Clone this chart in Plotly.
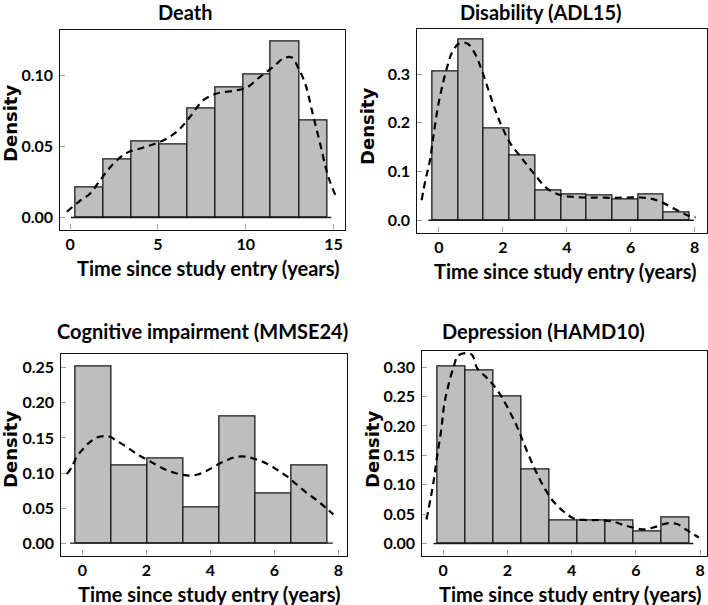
import plotly.graph_objects as go

W, H = 708, 605

# ---------------- data ----------------
titles = ["Death", "Disability (ADL15)", "Cognitive impairment (MMSE24)", "Depression (HAMD10)"]
x_title = "Time since study entry (years)"
y_title = "Density"

death_edges = [0.28, 1.88, 3.48, 5.08, 6.67, 8.26, 9.85, 11.44, 13.04, 14.64]
death_heights = [0.0211, 0.0406, 0.0535, 0.0514, 0.0770, 0.0918, 0.1005, 0.1239, 0.0683]
death_kde_x = [-0.19, 0.48, 1.14, 1.71, 2.47, 3.23, 3.99, 4.75, 5.51, 6.27, 6.83, 7.59, 8.35,
               9.30, 10.06, 10.82, 11.58, 12.15, 12.63, 13.01, 13.39, 13.77, 14.24, 14.71, 15.15]
death_kde_y = [0.0040, 0.0110, 0.0169, 0.0263, 0.0380, 0.0455, 0.0486, 0.0516, 0.0556, 0.0627,
               0.0709, 0.0826, 0.0873, 0.0892, 0.0915, 0.0991, 0.1061, 0.1120, 0.1127, 0.1049,
               0.0944, 0.0756, 0.0521, 0.0286, 0.0146]

adl_edges = [-0.21, 0.60, 1.41, 2.21, 3.02, 3.82, 4.63, 5.43, 6.24, 7.04, 7.85]
adl_heights = [0.3048, 0.3705, 0.1884, 0.1329, 0.0603, 0.0527, 0.0500, 0.0432, 0.0527, 0.0158]
adl_kde_x = [-0.54, -0.42, -0.28, -0.16, -0.03, 0.10, 0.26, 0.42, 0.63, 0.89, 1.10, 1.36, 1.62,
             1.93, 2.24, 2.56, 2.97, 3.39, 3.81, 4.22, 4.64, 5.06, 5.48, 5.89, 6.31, 6.62,
             6.94, 7.35, 7.77, 8.03]
adl_kde_y = [0.0411, 0.0822, 0.1233, 0.1781, 0.2329, 0.2740, 0.3151, 0.3459, 0.3630, 0.3630,
             0.3459, 0.3048, 0.2534, 0.1986, 0.1575, 0.1301, 0.0959, 0.0651, 0.0514, 0.0479,
             0.0466, 0.0466, 0.0459, 0.0466, 0.0466, 0.0445, 0.0377, 0.0240, 0.0103, 0.0055]

mmse_edges = [-0.22, 0.905, 2.03, 3.155, 4.28, 5.405, 6.53, 7.655]
mmse_heights = [0.2514, 0.1107, 0.1207, 0.0504, 0.1811, 0.0708, 0.1107]
mmse_kde_x = [-0.49, -0.33, -0.18, 0.03, 0.24, 0.45, 0.66, 0.86, 1.07, 1.38, 1.70, 2.01, 2.32,
              2.63, 2.95, 3.26, 3.57, 3.88, 4.19, 4.51, 4.82, 5.13, 5.44, 5.75, 6.07, 6.38,
              6.69, 7.00, 7.32, 7.63, 7.84]
mmse_kde_y = [0.0984, 0.1088, 0.1231, 0.1350, 0.1445, 0.1507, 0.1526, 0.1516, 0.1459, 0.1373,
              0.1269, 0.1193, 0.1112, 0.1041, 0.0993, 0.0965, 0.0975, 0.1031, 0.1112, 0.1183,
              0.1231, 0.1231, 0.1193, 0.1136, 0.1050, 0.0955, 0.0837, 0.0718, 0.0613, 0.0494,
              0.0409]

hamd_edges = [-0.17, 0.70, 1.57, 2.44, 3.31, 4.18, 5.05, 5.92, 6.79, 7.66]
hamd_heights = [0.3011, 0.2949, 0.2506, 0.1261, 0.0392, 0.0392, 0.0392, 0.0199, 0.0443]
hamd_kde_x = [-0.52, -0.39, -0.29, -0.19, -0.06, 0.04, 0.18, 0.33, 0.46, 0.70, 0.90, 1.06,
              1.37, 1.68, 1.99, 2.30, 2.51, 2.82, 3.13, 3.44, 3.76, 4.07, 4.48, 4.90, 5.31,
              5.62, 5.93, 6.25, 6.56, 6.97, 7.28, 7.59, 7.96]
hamd_kde_y = [0.0409, 0.0767, 0.1080, 0.1477, 0.1932, 0.2386, 0.2727, 0.3011, 0.3193, 0.3239,
              0.3210, 0.2983, 0.2813, 0.2614, 0.2330, 0.1989, 0.1705, 0.1307, 0.0966, 0.0710,
              0.0540, 0.0426, 0.0398, 0.0398, 0.0369, 0.0313, 0.0267, 0.0239, 0.0273, 0.0341,
              0.0330, 0.0227, 0.0102]

x_ticks = [[0, 5, 10, 15], [0, 2, 4, 6, 8], [0, 2, 4, 6, 8], [0, 2, 4, 6, 8]]
y_ticks = [[0, 0.05, 0.10], [0, 0.1, 0.2, 0.3],
           [0, 0.05, 0.10, 0.15, 0.20, 0.25], [0, 0.05, 0.10, 0.15, 0.20, 0.25, 0.30]]
y_tick_text = [["0.00", "0.05", "0.10"], ["0.0", "0.1", "0.2", "0.3"],
               ["0.00", "0.05", "0.10", "0.15", "0.20", "0.25"],
               ["0.00", "0.05", "0.10", "0.15", "0.20", "0.25", "0.30"]]

# ---------------- layout (pixel frames) ----------------
frames = [  # left, top, right, bottom in pixels
    (59.5, 29.5, 345.0, 229.5),
    (416.5, 28.5, 706.5, 232.5),
    (60.5, 353.5, 346.5, 555.5),
    (421.5, 350.5, 707.0, 555.5),
]
x_ranges = [[-0.61, 15.66], [-0.70, 8.37], [-0.687, 8.25], [-0.674, 8.216]]
y_ranges = [[-0.0085, 0.1324], [-0.0253, 0.394], [-0.0176, 0.2704], [-0.0205, 0.3284]]
title_pos = [(185, 12), (541, 12), (202, 331), (543, 331)]
xtitle_pos = [(208, 268), (565, 271), (209, 594), (570, 594)]
ytitle_pos = [(10, 124), (367, 127), (10, 450), (372, 450)]

panels = [
    (death_edges, death_heights, death_kde_x, death_kde_y),
    (adl_edges, adl_heights, adl_kde_x, adl_kde_y),
    (mmse_edges, mmse_heights, mmse_kde_x, mmse_kde_y),
    (hamd_edges, hamd_heights, hamd_kde_x, hamd_kde_y),
]

FONT = "Lato"
YFONT = "DejaVu Sans"
BAR_FILL = "#bebebe"
TICK_COL = "#a0a0a0"

fig = go.Figure()
layout = dict(width=W, height=H, margin=dict(l=0, r=0, t=0, b=0),
              paper_bgcolor="white", plot_bgcolor="white", showlegend=False,
              font=dict(family=FONT, color="black", size=16))
annotations = []

for i, (edges, heights, kx, ky) in enumerate(panels):
    xa = "x" if i == 0 else f"x{i+1}"
    ya = "y" if i == 0 else f"y{i+1}"
    l, t, r, b = frames[i]
    centers = [(edges[j] + edges[j + 1]) / 2 for j in range(len(heights))]
    widths = [edges[j + 1] - edges[j] for j in range(len(heights))]
    bw = sum(widths) / len(widths)
    fig.add_trace(go.Bar(x=centers, y=heights, width=widths, xaxis=xa, yaxis=ya,
                         marker=dict(color=BAR_FILL, line=dict(color="#1a1a1a", width=1.3)),
                         hoverinfo="skip"))
    # baseline at zero, a little wider than the bars
    fig.add_trace(go.Scatter(x=[edges[0] - 0.15 * bw, edges[-1] + 0.15 * bw], y=[0, 0],
                             mode="lines", xaxis=xa, yaxis=ya,
                             line=dict(color="#1a1a1a", width=1.4), hoverinfo="skip"))
    fig.add_trace(go.Scatter(x=kx, y=ky, mode="lines", xaxis=xa, yaxis=ya,
                             line=dict(color="black", width=2.2, dash="7px,5px", shape="spline"),
                             hoverinfo="skip"))
    axis_common = dict(showgrid=False, zeroline=False, showline=True, mirror=True,
                       linecolor="#111111", linewidth=1.4, ticks="inside", ticklen=5,
                       tickwidth=1.4, tickcolor=TICK_COL,
                       tickfont=dict(family=FONT, size=16, color="black", weight="bold"))
    layout["xaxis" if i == 0 else f"xaxis{i+1}"] = dict(
        axis_common, domain=[l / W, r / W], range=x_ranges[i], anchor=ya,
        tickvals=x_ticks[i], ticktext=[str(v) for v in x_ticks[i]], ticklabelstandoff=0)
    layout["yaxis" if i == 0 else f"yaxis{i+1}"] = dict(
        axis_common, domain=[1 - b / H, 1 - t / H], range=y_ranges[i], anchor=xa,
        tickvals=y_ticks[i], ticktext=y_tick_text[i], ticklabelstandoff=2)
    tx, ty = title_pos[i]
    annotations.append(dict(text=titles[i], x=tx / W, y=1 - ty / H, xref="paper", yref="paper",
                            showarrow=False, xanchor="center", yanchor="middle",
                            font=dict(family=FONT, size=20, weight="bold", color="black")))
    tx, ty = xtitle_pos[i]
    annotations.append(dict(text=x_title, x=tx / W, y=1 - ty / H, xref="paper", yref="paper",
                            showarrow=False, xanchor="center", yanchor="middle",
                            font=dict(family=FONT, size=20, weight="bold", color="black")))
    tx, ty = ytitle_pos[i]
    annotations.append(dict(text=y_title, x=tx / W, y=1 - ty / H, xref="paper", yref="paper",
                            showarrow=False, xanchor="center", yanchor="middle", textangle=-90,
                            font=dict(family=YFONT, size=18, weight="bold", color="black")))

layout["annotations"] = annotations
layout["bargap"] = 0
fig.update_layout(**layout)
fig.write_html("out.html", config={"displayModeBar": False},
               post_script="document.body.style.margin='0';document.body.style.overflow='hidden';")
